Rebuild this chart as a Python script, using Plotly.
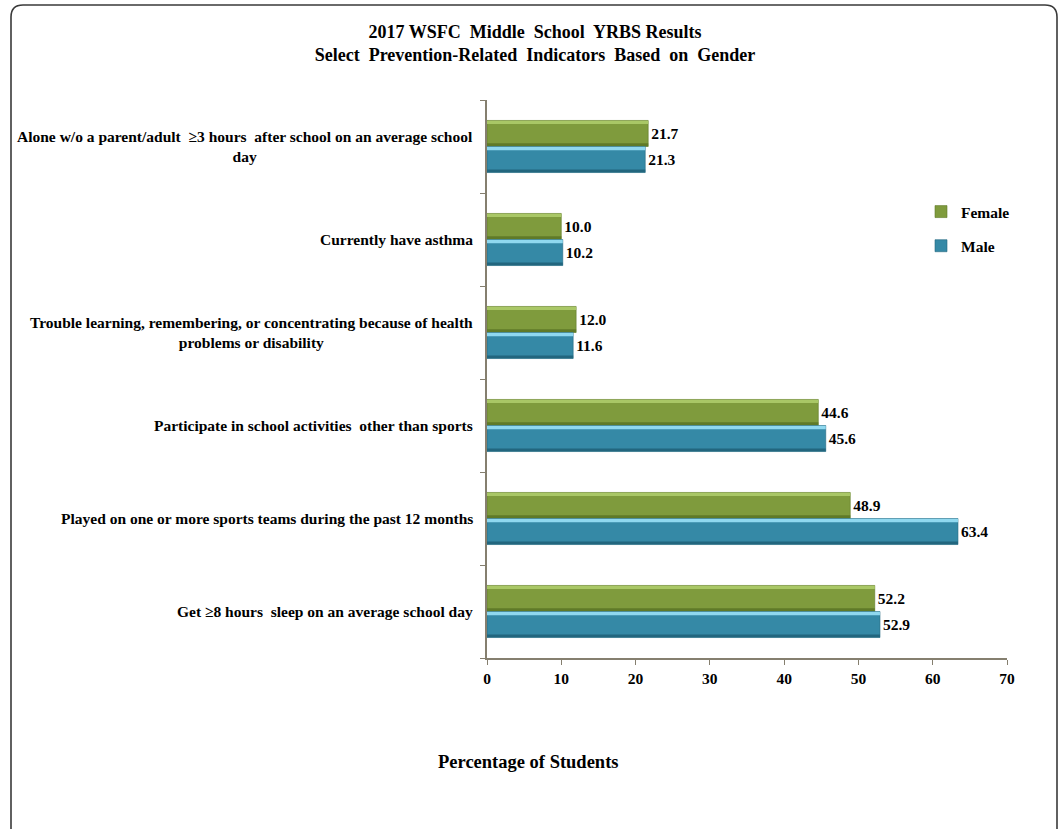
import plotly.graph_objects as go

# Survey indicators (top to bottom) and percentages by gender
categories = [
    "Alone w/o a parent/adult  \u22653 hours  after school on an average school<br>day",
    "Currently have asthma",
    "Trouble learning, remembering, or concentrating because of health<br>problems or disability",
    "Participate in school activities  other than sports",
    "Played on one or more sports teams during the past 12 months",
    "Get \u22658 hours  sleep on an average school day",
]
female = [21.7, 10.0, 12.0, 44.6, 48.9, 52.2]
male = [21.3, 10.2, 11.6, 45.6, 63.4, 52.9]
x_ticks = [0, 10, 20, 30, 40, 50, 60, 70]

FONT = "Liberation Serif, Times New Roman, serif"
AXIS_COLOR = "#857f6f"

# plot-area geometry (pixels) used for the frame and annotations
W, H = 1062, 829
L, R, T, B = 487, 55, 100, 171
PW, PH = W - L - R, H - T - B

cat_idx = list(range(len(categories)))
BAR_W = 0.28

fig = go.Figure()

series = [
    ("Female", female, -BAR_W, "#7f9b3d", "#a9c766", "#5f7a28"),
    ("Male", male, 0.0, "#3589a6", "#8fd8ef", "#22667e"),
]
for name, vals, off, main, light, dark in series:
    # main body of the bar
    fig.add_trace(go.Bar(
        name=f"<b>{name}</b>", y=cat_idx, x=vals, orientation="h",
        width=BAR_W, offset=off,
        marker=dict(color=main, line=dict(color=dark, width=0.6)),
        text=[f"<b>{v:.1f}</b>" for v in vals], textposition="outside",
        textfont=dict(family=FONT, size=15.5, color="#000000"),
        cliponaxis=False, legendgroup=name,
    ))
    # bevel highlight along the top edge
    fig.add_trace(go.Bar(
        y=cat_idx, x=vals, orientation="h",
        width=0.035, offset=off + 0.004,
        marker=dict(color=light, line=dict(width=0)),
        showlegend=False, hoverinfo="skip", legendgroup=name,
    ))
    # darker shading along the bottom edge
    fig.add_trace(go.Bar(
        y=cat_idx, x=vals, orientation="h",
        width=0.03, offset=off + BAR_W - 0.034,
        marker=dict(color=dark, line=dict(width=0)),
        showlegend=False, hoverinfo="skip", legendgroup=name,
    ))


def px_x(p):
    return (p - L) / PW


def px_y(p):
    return 1 - (p - T) / PH


annotations = []
# category labels, centred as multi-line blocks to the left of the axis
for i, c in enumerate(categories):
    annotations.append(dict(
        text="<b>" + c.replace("<br>", "</b><br><b>") + "</b>",
        xref="paper", yref="y", x=0, y=i, xshift=-12,
        xanchor="right", yanchor="middle", align="center", showarrow=False,
        font=dict(family=FONT, size=15.5, color="#000000"),
    ))
annotations.append(dict(
    text="<b>Percentage of Students</b>", xref="paper", yref="paper",
    x=px_x(528), y=px_y(762), xanchor="center", yanchor="middle",
    showarrow=False, font=dict(family=FONT, size=18.5, color="#000000"),
))

# rounded outer frame
x0, x1, y0, y1, r = 11, 1057, 5, 845, 12
rx, ry = r / PW, r / PH
fx0, fx1, fy0, fy1 = px_x(x0), px_x(x1), px_y(y0), px_y(y1)
frame_path = (
    f"M {fx0 + rx} {fy0} L {fx1 - rx} {fy0} Q {fx1} {fy0} {fx1} {fy0 - ry} "
    f"L {fx1} {fy1 + ry} Q {fx1} {fy1} {fx1 - rx} {fy1} "
    f"L {fx0 + rx} {fy1} Q {fx0} {fy1} {fx0} {fy1 + ry} "
    f"L {fx0} {fy0 - ry} Q {fx0} {fy0} {fx0 + rx} {fy0} Z"
)

fig.update_layout(
    width=W, height=H,
    margin=dict(l=L, r=R, t=T, b=B),
    paper_bgcolor="#ffffff", plot_bgcolor="#ffffff",
    barmode="overlay",
    title=dict(
        text="<b>2017 WSFC  Middle  School  YRBS Results</b><br>"
             "<b>Select  Prevention-Related  Indicators  Based  on  Gender</b>",
        x=px_x(535), xref="paper", xanchor="center",
        y=1 - 38 / H, yanchor="middle",
        font=dict(family=FONT, size=18, color="#000000"),
    ),
    font=dict(family=FONT, color="#000000"),
    xaxis=dict(
        range=[0, 70], tickvals=x_ticks,
        ticktext=[f"<b>{t}</b>" for t in x_ticks],
        tickfont=dict(family=FONT, size=15.5, color="#000000"),
        showgrid=False, zeroline=False,
        showline=True, linecolor=AXIS_COLOR, linewidth=1.5,
        ticks="outside", ticklen=5, tickcolor=AXIS_COLOR, tickwidth=1.2,
        ticklabelstandoff=1,
    ),
    yaxis=dict(
        range=[len(categories) - 0.5, -0.5],
        tickvals=[i - 0.5 for i in range(len(categories) + 1)],
        ticktext=[""] * (len(categories) + 1),
        showgrid=False, zeroline=False,
        showline=True, linecolor=AXIS_COLOR, linewidth=1.5,
        ticks="outside", ticklen=5, tickcolor=AXIS_COLOR, tickwidth=1.2,
    ),
    legend=dict(
        x=px_x(921), y=px_y(195), xanchor="left", yanchor="top",
        bgcolor="rgba(0,0,0,0)", traceorder="grouped", tracegroupgap=11,
        font=dict(family=FONT, size=15.5, color="#000000"),
        itemwidth=30,
    ),
    annotations=annotations,
    shapes=[dict(type="path", xref="paper", yref="paper", path=frame_path,
                 line=dict(color="#3a3a3a", width=1.6), layer="below")],
)

fig.write_html("out.html")
